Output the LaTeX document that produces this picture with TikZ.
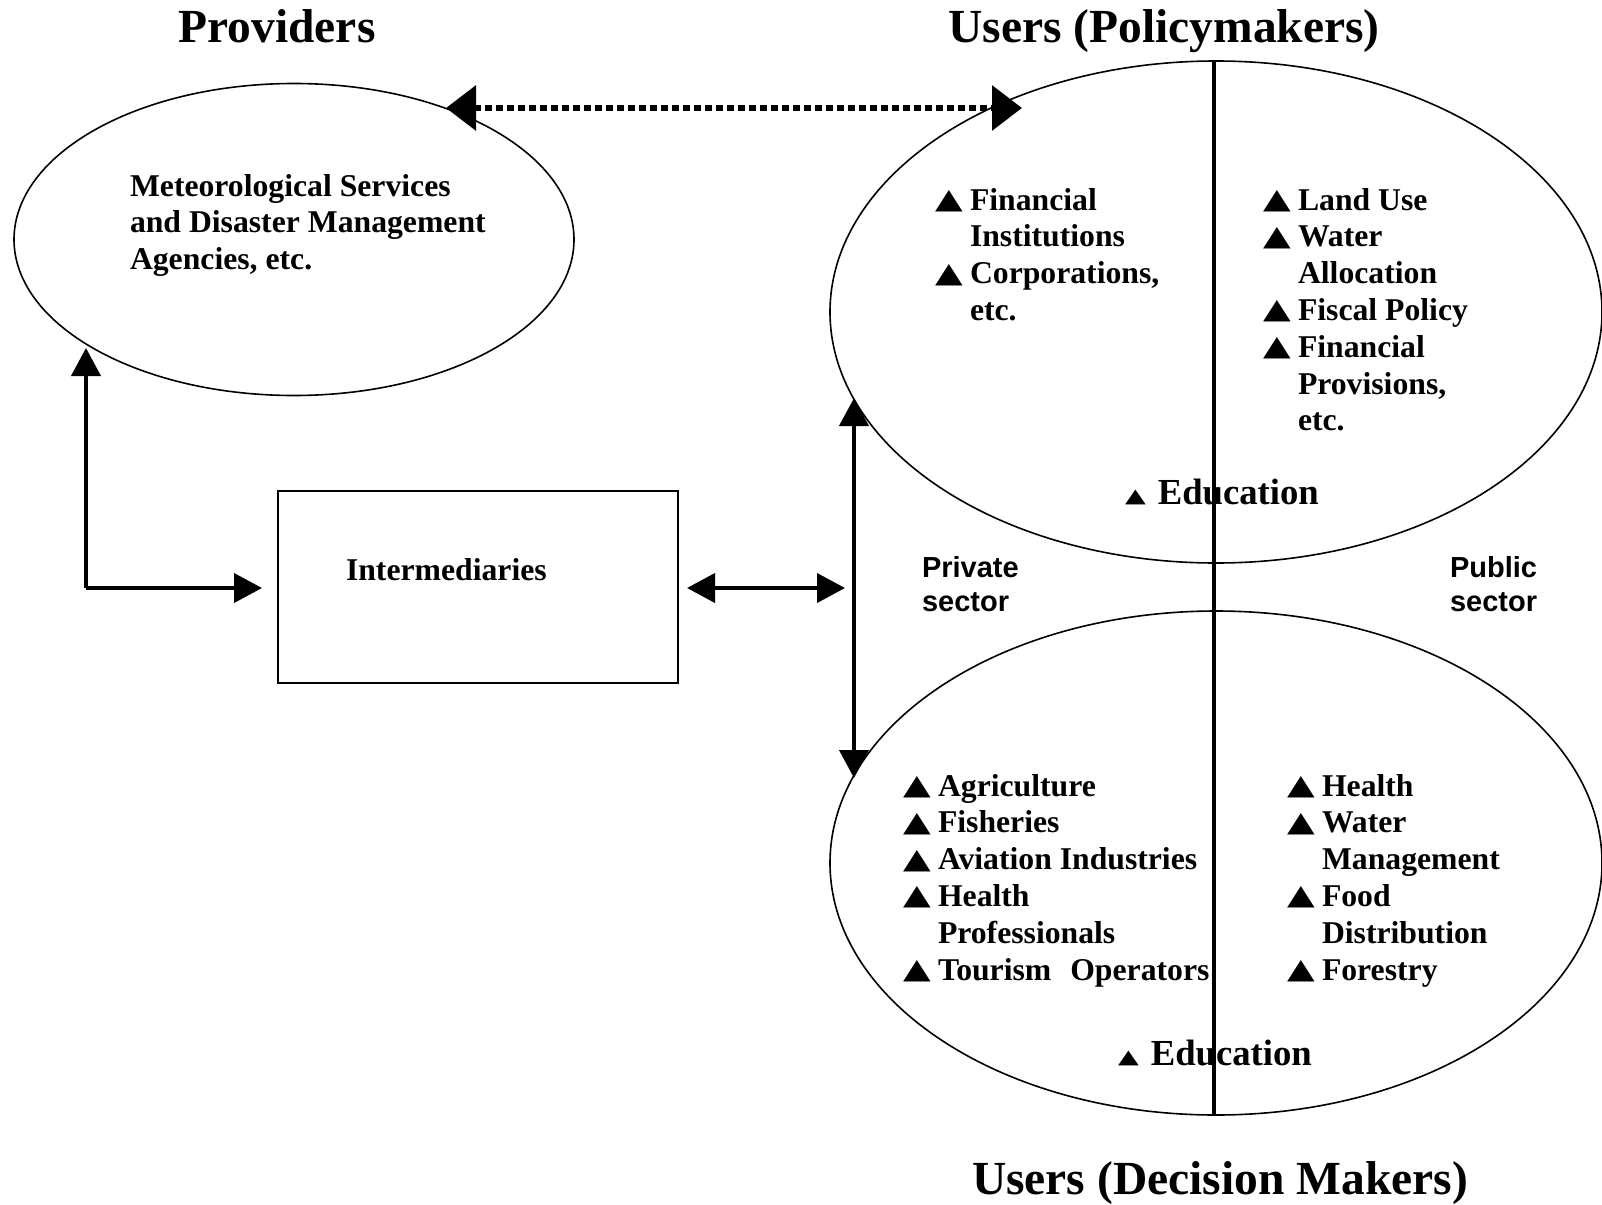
\documentclass[tikz,border=0pt]{standalone}
\usepackage{graphicx}
\usepackage{fontspec}
\setmainfont{Liberation Serif}
\newfontfamily\arialf{Liberation Sans}
\newfontfamily\symf{DejaVu Sans}
\usetikzlibrary{arrows.meta,shapes.geometric}
\newcommand{\tri}{\raisebox{1.5pt}{\symf\fontsize{36}{36}\selectfont\scalebox{1}[0.78]{▲}}}
\newcommand{\smalltri}{\raisebox{1.5pt}{\symf\fontsize{27}{27}\selectfont\scalebox{1}[0.72]{▲}}}
\newcommand{\itm}[1]{\makebox[35pt][l]{\tri}#1}
\newcommand{\cont}[1]{\hspace*{35pt}#1}
\newcommand{\bodyfont}{\bfseries\fontsize{31.7}{36.8}\selectfont}
\newcommand{\titlefont}{\bfseries\fontsize{47.5}{50}\selectfont}
\newcommand{\edufont}{\bfseries\fontsize{36.7}{40}\selectfont}
\newcommand{\sectorfont}{\arialf\bfseries\fontsize{29}{34}\selectfont}
\begin{document}
\begin{tikzpicture}[x=1pt,y=-1pt,
  body/.style={inner sep=0pt, outer sep=0pt, anchor=base west, font=\bodyfont},
  titletext/.style={inner sep=0pt, outer sep=0pt, anchor=base, font=\titlefont},
  edutext/.style={inner sep=0pt, outer sep=0pt, anchor=base west, font=\edufont},
  sectortext/.style={inner sep=0pt, outer sep=0pt, anchor=base west, font=\sectorfont},
  oval/.style={draw, ellipse, line width=1.6pt, inner sep=0pt, outer sep=0pt},
  boxnode/.style={draw, rectangle, line width=2pt, inner sep=0pt, outer sep=0pt},
  arr/.style={line width=4pt, -{Triangle[length=28pt,width=29pt]}},
  dbl/.style={line width=4pt, {Triangle[length=28pt,width=29pt]}-{Triangle[length=28pt,width=29pt]}},
  dotarr/.style={line width=6.5pt, dash pattern=on 7pt off 4pt, {Triangle[length=30pt,width=44pt]}-{Triangle[length=30pt,width=44pt]}},
  divider/.style={line width=3.5pt}
]
\useasboundingbox (0,0) rectangle (1602,1204);

% titles
\node[titletext] (tprov) at (277,43) {Providers};
\node[titletext] (tpol) at (1164,43) {Users (Policymakers)};
\node[titletext] (tdec) at (1220,1194) {Users (Decision Makers)};

% shapes
\node[oval, minimum width=560pt, minimum height=312pt] (prov) at (294,239.5) {};
\node[oval, minimum width=772pt, minimum height=502pt] (pol) at (1216,312) {};
\node[oval, minimum width=772pt, minimum height=504pt] (dec) at (1216,863) {};
\node[boxnode, minimum width=400pt, minimum height=192pt] (inter) at (478,587) {};

\coordinate (divtop) at (1214,61);
\coordinate (divbot) at (1214,1115);
\draw[divider] (divtop) -- (divbot);

% texts
\node[body] (provtxt) at (130,196) {\begin{tabular}[t]{@{}l@{}}Meteorological Services\\ and Disaster Management\\ Agencies, etc.\end{tabular}};
\node[body] (intertxt) at (346,580) {Intermediaries};

\node[body] (polpriv) at (935,210) {\begin{tabular}[t]{@{}l@{}}\itm{Financial}\\ \cont{Institutions}\\ \itm{Corporations,}\\ \cont{etc.}\end{tabular}};
\node[body] (polpub) at (1263,210) {\begin{tabular}[t]{@{}l@{}}\itm{Land Use}\\ \itm{Water}\\ \cont{Allocation}\\ \itm{Fiscal Policy}\\ \itm{Financial}\\ \cont{Provisions,}\\ \cont{etc.}\end{tabular}};
\node[edutext] (edu1) at (1125,504) {\smalltri\hspace{12pt}Education};

\node[sectortext] (priv) at (922,577) {\begin{tabular}[t]{@{}l@{}}Private\\ sector\end{tabular}};
\node[sectortext] (publ) at (1450,577) {\begin{tabular}[t]{@{}l@{}}Public\\ sector\end{tabular}};

\node[body] (decpriv) at (903,796) {\begin{tabular}[t]{@{}l@{}}\itm{Agriculture}\\ \itm{Fisheries}\\ \itm{Aviation Industries}\\ \itm{Health}\\ \cont{Professionals}\\ \itm{Tourism\hspace{19pt}Operators}\end{tabular}};
\node[body] (decpub) at (1287,796) {\begin{tabular}[t]{@{}l@{}}\itm{Health}\\ \itm{Water}\\ \cont{Management}\\ \itm{Food}\\ \cont{Distribution}\\ \itm{Forestry}\end{tabular}};
\node[edutext] (edu2) at (1118,1065) {\smalltri\hspace{12pt}Education};

% connector end points
\coordinate (d1) at (446,108);
\coordinate (d2) at (1022,108);
\coordinate (a1) at (86,348);
\coordinate (a2) at (262,588);
\coordinate (b1) at (687,588);
\coordinate (b2) at (845,588);
\coordinate (c1) at (854,398);
\coordinate (c2) at (854,778);

\draw[dotarr] (d1) -- (d2);
\draw[arr] (a2 -| a1) -- (a1);
\draw[arr] (a2 -| a1) -- (a2);
\draw[dbl] (b1) -- (b2);
\draw[dbl] (c1) -- (c2);
\end{tikzpicture}
\end{document}
